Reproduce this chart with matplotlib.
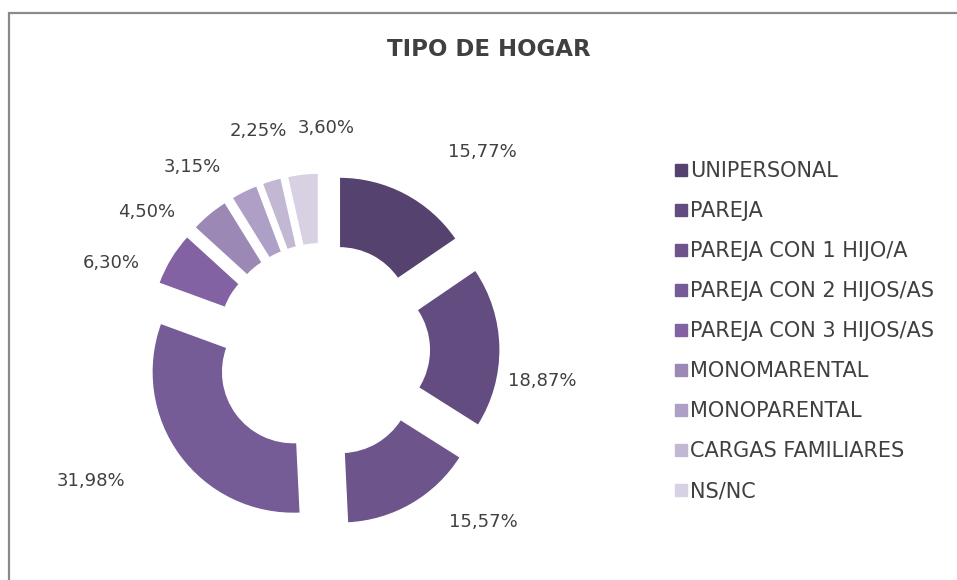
#!/usr/bin/env python3
''' tipo de hogar - donut chart '''

import numpy as np
import matplotlib
matplotlib.use('Agg')
import matplotlib.pyplot as plt
from matplotlib.lines import Line2D
from matplotlib.patches import Rectangle

plt.rcParams['font.family'] = ['DejaVu Sans']

# data
categories = ['UNIPERSONAL', 'PAREJA', 'PAREJA CON 1 HIJO/A',
              'PAREJA CON 2 HIJOS/AS', 'PAREJA CON 3 HIJOS/AS',
              'MONOMARENTAL', 'MONOPARENTAL', 'CARGAS FAMILIARES', 'NS/NC']
percent = [15.77, 18.87, 15.57, 31.98, 6.30, 4.50, 3.15, 2.25, 3.60]
title = 'TIPO DE HOGAR'

colors = ['#55426e', '#634c80', '#6d548b', '#765c96', '#8262a2',
          '#9c88b5', '#ae9fc6', '#c2b8d4', '#d8d1e3']
text_col = '#404040'

# label layout (angle nudge in degrees, radial distance in pie radii)
lab_shift = [-11, -9, 13, -7, 8.7, 12, 9.2, -0.3, -7.3]
lab_dist = [1.80, 1.57, 1.66, 1.88, 1.62, 1.58, 1.59, 1.62, 1.57]

W, H = 957, 580
fig = plt.figure(figsize=(W / 100, H / 100), dpi=100)

# chart frame (only top and left edge visible)
fig.add_artist(Rectangle((9 / W, -0.05), 1.2, (H - 13) / H + 0.05,
                         transform=fig.transFigure, fill=False,
                         edgecolor='#8a8a8a', linewidth=1.6))

# pie axes: center (322.5, 350.5) px, radius 141.5 px
cx, cy, R, L = 322.5, 350.5, 141.5, 2.0
side = 2 * L * R
ax = fig.add_axes([(cx - side / 2) / W, (H - cy - side / 2) / H, side / W, side / H])

wedges, _ = ax.pie(percent, colors=colors, startangle=90, counterclock=False,
                   explode=[0.255] * len(percent),
                   wedgeprops=dict(width=0.5, edgecolor='white', linewidth=1))
ax.set_xlim(-L, L)
ax.set_ylim(-L, L)
ax.set_aspect('equal')

for w, p, da, d in zip(wedges, percent, lab_shift, lab_dist):
    ang = np.deg2rad((w.theta1 + w.theta2) / 2 + da)
    ax.text(d * np.cos(ang), d * np.sin(ang), f'{p:.2f}%'.replace('.', ','),
            ha='center', va='center', fontsize=13, color=text_col)

fig.text(489 / W, 1 - 50 / H, title, ha='center', va='center',
         fontsize=16.5, fontweight='bold', color=text_col)

handles = [Line2D([], [], marker='s', linestyle='none', markersize=8,
                  markerfacecolor=c, markeredgecolor=c) for c in colors]
fig.legend(handles, categories, loc='upper left',
           bbox_to_anchor=(675 / W, 1 - 161 / H), frameon=False,
           fontsize=15, labelcolor=text_col, handlelength=0.6,
           handletextpad=0.12, labelspacing=0.96, borderaxespad=0,
           borderpad=0)

fig.savefig('out.png', dpi=100)
